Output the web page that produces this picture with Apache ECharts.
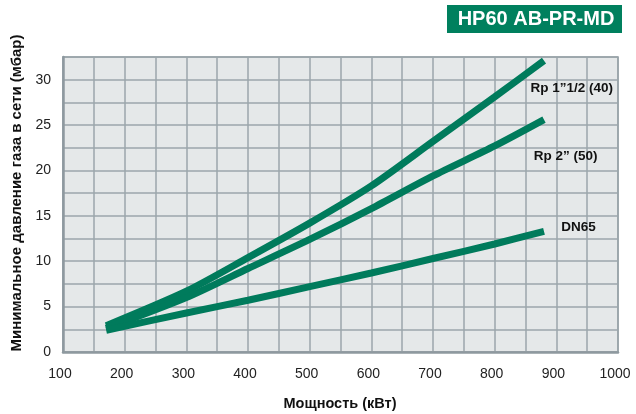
<!DOCTYPE html>
<html>
<head>
<meta charset="utf-8">
<script src="https://cdn.jsdelivr.net/npm/echarts@6/dist/echarts.min.js"></script>
<style>
html,body{margin:0;padding:0;background:#fff;}
#c{width:636px;height:414px;}
</style>
</head>
<body>
<div id="c"></div>
<script>
// Data
const powerKW = [170, 300, 400, 500, 600, 700, 800, 880];
const rp112 = [2.9, 6.7, 10.4, 14.2, 18.3, 23.2, 28.1, 32.1];
const rp2 = [2.6, 6.0, 9.2, 12.4, 15.8, 19.4, 22.7, 25.6];
const dn65 = [2.4, 4.3, 5.7, 7.2, 8.7, 10.3, 11.9, 13.3];
const seriesNames = ['Rp 1”1/2 (40)', 'Rp 2” (50)', 'DN65'];
const labelAnchors = [[925, 29.1], [915, 21.6], [936, 13.7]];
const titleText = 'HP60 AB-PR-MD';
const xTitle = 'Мощность (кВт)';
const yTitle = 'Минимальное давление газа в сети (мбар)';

const green = '#007b5c';
const gridColor = '#9ba6ab';
const font = '"Liberation Sans", Arial, sans-serif';

function pairs(ys){ return powerKW.map((x,i)=>[x, ys[i]]); }

const allSeries = [rp112, rp2, dn65].map((ys, i) => ({
  type: 'line',
  name: seriesNames[i],
  data: pairs(ys),
  smooth: 0.25,
  symbol: 'none',
  lineStyle: { color: green, width: 7, cap: 'butt' },
  z: 3,
  markPoint: {
    symbol: 'circle', symbolSize: 0,
    label: {
      show: true, formatter: seriesNames[i], color: '#111',
      fontFamily: font, fontWeight: 'bold', fontSize: 13.5, position: 'inside'
    },
    data: [{ coord: labelAnchors[i] }]
  }
}));

const chart = echarts.init(document.getElementById('c'));
chart.setOption({
  animation: false,
  backgroundColor: '#fff',
  grid: { left: 63, right: 18, top: 57, bottom: 62, show: true,
          backgroundColor: '#e5e8e9', borderColor: '#8e999f', borderWidth: 1.5 },
  xAxis: {
    type: 'value', min: 100, max: 1000, interval: 50,
    axisLine: { show: true, lineStyle: { color: '#8e999f', width: 2.5 } },
    axisTick: { show: false },
    axisLabel: { margin: 15, fontFamily: font, fontSize: 14, color: '#222', padding: [0, 6, 0, 0],
      formatter: v => (v % 100 === 0 ? String(v) : '') },
    splitLine: { show: true, lineStyle: { color: gridColor, width: 1.5 } }
  },
  yAxis: {
    type: 'value', min: 0, max: 32.5, interval: 2.5,
    axisLine: { show: true, lineStyle: { color: '#8e999f', width: 2.5 } },
    axisTick: { show: false },
    axisLabel: { margin: 12, fontFamily: font, fontSize: 14, color: '#222',
      formatter: v => (v % 5 === 0 && v <= 30 ? String(v) : '') },
    splitLine: { show: true, lineStyle: { color: gridColor, width: 1.5 } }
  },
  graphic: [
    { type: 'rect', shape: { x: 447, y: 5, width: 175, height: 28 }, style: { fill: '#00805e' } },
    { type: 'text', x: 536, y: 19.5, style: { text: titleText, fill: '#fff', font: 'bold 20px ' + font,
      textAlign: 'center', textVerticalAlign: 'middle' } },
    { type: 'text', x: 17, y: 193, rotation: Math.PI / 2,
      style: { text: yTitle, fill: '#111', font: 'bold 15px ' + font,
      textAlign: 'center', textVerticalAlign: 'middle' } },
    { type: 'text', x: 340, y: 404, 
      style: { text: xTitle, fill: '#111', font: 'bold 14.5px ' + font,
      textAlign: 'center', textVerticalAlign: 'middle' } }
  ],
  series: allSeries
});
</script>
</body>
</html>
